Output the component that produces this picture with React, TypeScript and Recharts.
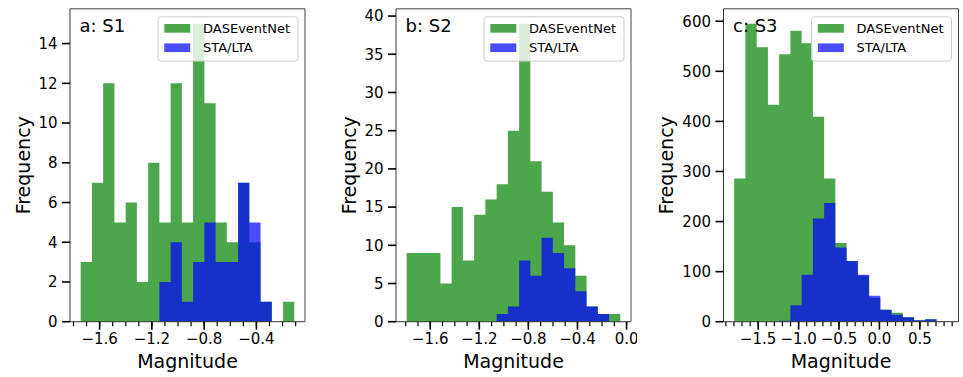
import React from 'react';
import { ComposedChart, Area, XAxis, YAxis, Label } from 'recharts';

const FONT = '"DejaVu Sans", Verdana, sans-serif';

// min / max magnitude of each site, split into 19 bins
const s1Range = [-1.745, -0.11];
const s2Range = [-1.792, -0.051];
const s3Range = [-1.797, 0.846];

// counts per bin
const s1Net = [3, 7, 12, 5, 6, 2, 8, 5, 12, 5, 15, 11, 5, 4, 7, 4, 1, 0, 1];
const s1Sta = [0, 0, 0, 0, 0, 0, 0, 2, 4, 1, 3, 5, 3, 3, 7, 5, 1, 0, 0];

const s2Net = [9, 9, 9, 5, 15, 8, 14, 16, 18, 25, 39, 21, 17, 13, 10, 6, 2, 1, 1];
const s2Sta = [0, 0, 0, 0, 0, 0, 0, 0, 1, 2, 8, 6, 11, 9, 7, 4, 2, 1, 0];

const s3Net = [286, 595, 548, 433, 534, 581, 556, 409, 286, 157, 121, 92, 48, 24, 18, 9, 3, 5, 0];
const s3Sta = [0, 0, 0, 0, 2, 33, 94, 206, 237, 148, 121, 94, 52, 24, 14, 9, 3, 5, 1];

const s1XTicks = [-1.6, -1.2, -0.8, -0.4];
const s2XTicks = [-1.6, -1.2, -0.8, -0.4, 0.0];
const s3XTicks = [-1.5, -1.0, -0.5, 0.0, 0.5];

const s1YTicks = [0, 2, 4, 6, 8, 10, 12, 14];
const s2YTicks = [0, 5, 10, 15, 20, 25, 30, 35, 40];
const s3YTicks = [0, 100, 200, 300, 400, 500, 600];

const seriesNames = ['DASEventNet', 'STA/LTA'];

const GREEN = '#008000';
const BLUE = '#0000ff';
const H = 377;
const TOP = 8.8;
const BOTTOM = 321.7;
const PLOT_W = 235;
const RIGHT = 6;

// step points at bin edges, last one closes the area
function histPoints(range: number[], net: number[], sta: number[]) {
  const [lo, hi] = range;
  const w = (hi - lo) / net.length;
  const pts = net.map((n, i) => ({ x: lo + i * w, net: n, sta: sta[i] }));
  pts.push({ x: hi, net: 0, sta: 0 });
  return pts;
}

function padded(range: number[]) {
  const pad = (range[1] - range[0]) * 0.05;
  return [range[0] - pad, range[1] + pad];
}

function minorTicks(dom: number[]) {
  const out: number[] = [];
  for (let k = Math.ceil(dom[0] * 10); k <= Math.floor(dom[1] * 10); k++) out.push(k / 10);
  return out;
}

const fmt = (v: number) => (v < -1e-9 ? '\u2212' : '') + Math.abs(v).toFixed(1);

const tickStyle = { fill: '#000', fontSize: 15, fontFamily: FONT };
const noLabel = () => <g />;

type PanelProps = {
  title: string;
  range: number[];
  net: number[];
  sta: number[];
  xTicks: number[];
  yTicks: number[];
  left: number;
  yw: number;
  labelDist: number;
};

function Panel({ title, range, net, sta, xTicks, yTicks, left, yw, labelDist }: PanelProps) {
  const data = histPoints(range, net, sta);
  const xDom = padded(range);
  const yMax = Math.max(...net, ...sta) * 1.05;
  const width = yw + PLOT_W + RIGHT;
  const plotRight = yw + PLOT_W;
  const lgX = plotRight - 7 - 140;
  const lgY = 16.8;

  return (
    <div style={{ position: 'absolute', left, top: 0 }}>
      <ComposedChart
        width={width}
        height={H}
        data={data}
        margin={{ top: TOP, right: RIGHT, left: 0, bottom: H - BOTTOM - 0.03 }}
      >
        <XAxis
          xAxisId="minor"
          type="number"
          dataKey="x"
          domain={xDom}
          allowDataOverflow
          ticks={minorTicks(xDom)}
          interval={0}
          tick={noLabel}
          tickSize={4.5}
          tickLine={{ stroke: '#000', strokeWidth: 1.2 }}
          axisLine={false}
          height={0.01}
        />
        <XAxis
          xAxisId="main"
          type="number"
          dataKey="x"
          domain={xDom}
          allowDataOverflow
          ticks={xTicks}
          interval={0}
          tickFormatter={fmt}
          tick={tickStyle}
          tickSize={8}
          tickMargin={4}
          tickLine={{ stroke: '#000', strokeWidth: 1.6 }}
          axisLine={{ stroke: '#333', strokeWidth: 1 }}
          height={0.01}
        >
          <Label
            content={(p: any) => {
              const vb = p.viewBox || {};
              return (
                <text x={vb.x + vb.width / 2} y={vb.y + 46.6} textAnchor="middle" fontSize={19} fontFamily={FONT} fill="#000">
                  Magnitude
                </text>
              );
            }}
          />
        </XAxis>
        <XAxis
          xAxisId="top"
          orientation="top"
          type="number"
          dataKey="x"
          domain={xDom}
          allowDataOverflow
          tick={false}
          tickLine={false}
          axisLine={{ stroke: '#444', strokeWidth: 1 }}
          height={0.01}
        />
        <YAxis
          yAxisId="main"
          type="number"
          domain={[0, yMax]}
          allowDataOverflow
          ticks={yTicks}
          interval={0}
          width={yw}
          tick={tickStyle}
          tickSize={8}
          tickMargin={4.5}
          tickLine={{ stroke: '#000', strokeWidth: 1.6 }}
          axisLine={{ stroke: '#333', strokeWidth: 1 }}
        >
          <Label
            content={(p: any) => {
              const vb = p.viewBox || {};
              const x = vb.x + vb.width - labelDist;
              const y = vb.y + vb.height / 2;
              return (
                <text x={x} y={y} transform={`rotate(-90 ${x} ${y})`} textAnchor="middle" fontSize={19} fontFamily={FONT} fill="#000">
                  Frequency
                </text>
              );
            }}
          />
        </YAxis>
        <YAxis
          yAxisId="frame"
          orientation="right"
          type="number"
          domain={[0, yMax]}
          allowDataOverflow
          width={0.01}
          tick={false}
          tickLine={false}
          axisLine={{ stroke: '#444', strokeWidth: 1 }}
        />
        <Area
          xAxisId="main"
          yAxisId="main"
          type="stepAfter"
          dataKey="net"
          name={seriesNames[0]}
          fill={GREEN}
          fillOpacity={0.7}
          stroke="none"
          dot={false}
          activeDot={false}
          isAnimationActive={false}
        />
        <Area
          xAxisId="main"
          yAxisId="main"
          type="stepAfter"
          dataKey="sta"
          name={seriesNames[1]}
          fill={BLUE}
          fillOpacity={0.7}
          stroke="none"
          dot={false}
          activeDot={false}
          isAnimationActive={false}
        />
      </ComposedChart>
      {/* title + legend drawn over the plot */}
      <svg width={width} height={H} style={{ position: 'absolute', left: 0, top: 0, pointerEvents: 'none' }}>
        <text x={yw + 9.5} y={31.5} fontSize={18} fontFamily={FONT} fill="#000">
          {title}
        </text>
        <rect x={lgX} y={lgY} width={140} height={44.3} rx={3} fill="#fff" fillOpacity={0.8} stroke="#ccc" strokeWidth={1} />
        <rect x={lgX + 6.3} y={24} width={26} height={8.7} fill={GREEN} fillOpacity={0.7} />
        <rect x={lgX + 6.3} y={43.4} width={26} height={8.7} fill={BLUE} fillOpacity={0.7} />
        <text x={lgX + 45} y={32.7} fontSize={13} fontFamily={FONT} fill="#000">
          {seriesNames[0]}
        </text>
        <text x={lgX + 45} y={52.2} fontSize={13} fontFamily={FONT} fill="#000">
          {seriesNames[1]}
        </text>
      </svg>
    </div>
  );
}

export default function App() {
  return (
    <div style={{ position: 'absolute', left: 0, top: 0, width: 963, height: H, background: '#fff' }}>
      <Panel title="a: S1" range={s1Range} net={s1Net} sta={s1Sta} xTicks={s1XTicks} yTicks={s1YTicks} left={0} yw={70} labelDist={40.3} />
      <Panel title="b: S2" range={s2Range} net={s2Net} sta={s2Sta} xTicks={s2XTicks} yTicks={s2YTicks} left={326} yw={70} labelDist={40.3} />
      <Panel title="c: S3" range={s3Range} net={s3Net} sta={s3Sta} xTicks={s3XTicks} yTicks={s3YTicks} left={643} yw={80.5} labelDist={50.2} />
    </div>
  );
}
